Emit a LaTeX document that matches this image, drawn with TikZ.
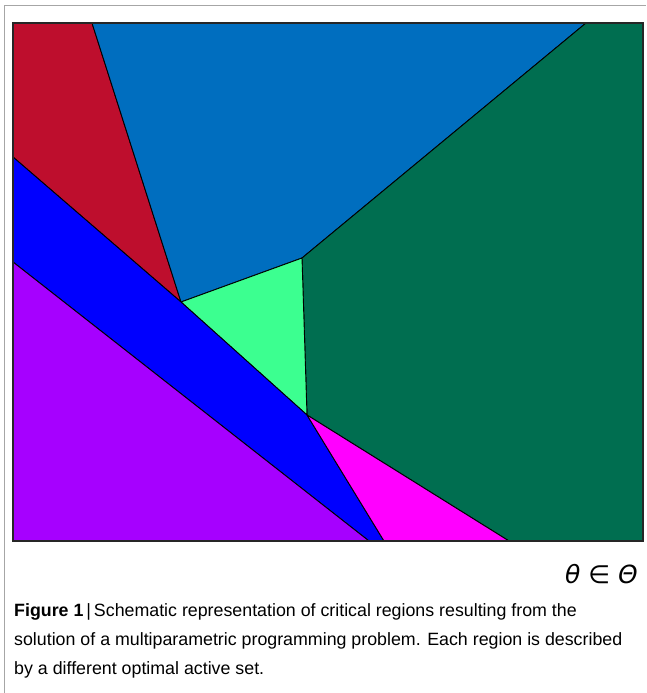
\documentclass[tikz,border=0pt]{standalone}
\usepackage{fontspec}
\setmainfont{Liberation Sans}
\newfontfamily\dejavu{DejaVu Sans}
\definecolor{cred}{HTML}{BE0E2D}
\definecolor{csteel}{HTML}{006EBF}
\definecolor{cdgreen}{HTML}{006E50}
\definecolor{clgreen}{HTML}{3CFF90}
\definecolor{cblue}{HTML}{0000FF}
\definecolor{cpurple}{HTML}{A600FF}
\definecolor{cmagenta}{HTML}{FF00FF}
\tikzset{region/.style={draw=black,line width=0.9pt,line join=round}}
\begin{document}
\begin{tikzpicture}[x=1pt,y=-1pt]
\useasboundingbox (0,0) rectangle (646,693);
\fill[white] (0,0) rectangle (646,693);
% outer frame
\draw[gray!70,line width=1pt] (4,693) -- (4,6) -- (646,6);
% corner coordinates
\coordinate (TL) at (13,23);
\coordinate (TR) at (643,23);
\coordinate (BR) at (643,541);
\coordinate (BL) at (13,541);
\coordinate (a) at (92,23);
\coordinate (b) at (586,23);
\coordinate (c) at (302,258);
\coordinate (d) at (181,302);
\coordinate (e) at (307,415);
\coordinate (f) at (13,157);
\coordinate (g) at (13,262);
\coordinate (h) at (369,541);
\coordinate (i) at (384,541);
\coordinate (j) at (509,541);
% regions
\filldraw[region,fill=cred] (TL) -- (a) -- (d) -- (f) -- cycle;
\filldraw[region,fill=csteel] (a) -- (b) -- (c) -- (d) -- cycle;
\filldraw[region,fill=cdgreen] (b) -- (TR) -- (BR) -- (j) -- (e) -- (c) -- cycle;
\filldraw[region,fill=clgreen] (d) -- (c) -- (e) -- cycle;
\filldraw[region,fill=cblue] (f) -- (d) -- (e) -- (i) -- (h) -- (g) -- cycle;
\filldraw[region,fill=cpurple] (g) -- (h) -- (BL) -- cycle;
\filldraw[region,fill=cmagenta] (e) -- (j) -- (i) -- cycle;
\draw[black!85,line width=1.4pt] (TL) rectangle (BR);
% label
\node[anchor=east,inner sep=0pt,font=\dejavu\fontsize{25}{30}\selectfont] (lab) at (638,574) {\itshape θ\upshape\ ∈\ \itshape Θ};
% caption
\node[anchor=north west,inner sep=0pt,align=left,font=\fontsize{17.8}{29}\selectfont] (cap) at (14,603) {\textbf{Figure 1}\,|\,Schematic representation of critical regions resulting from the\\solution of a multiparametric programming problem. Each region is described\\by a different optimal active set.};
\end{tikzpicture}
\end{document}
